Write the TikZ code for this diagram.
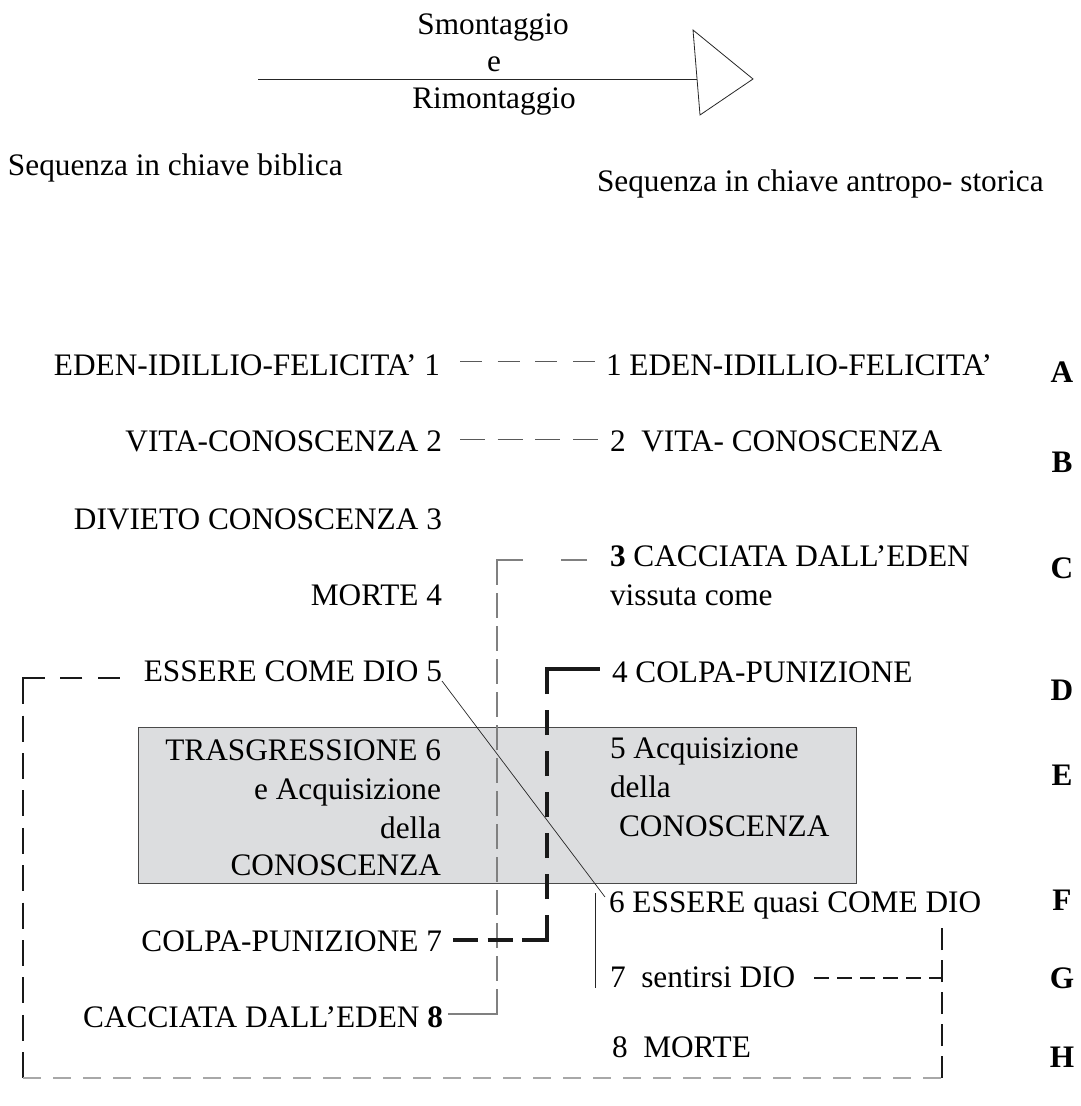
\documentclass[tikz,border=0pt]{standalone}
\usepackage{fontspec}
\setmainfont{Liberation Serif}
\usetikzlibrary{calc}
\definecolor{boxfill}{HTML}{DCDDDF}
\definecolor{boxline}{HTML}{4A4A4A}
\definecolor{midgray}{HTML}{808080}
\definecolor{lightgrayb}{HTML}{A8A8A8}
\begin{document}
\begin{tikzpicture}[x=1pt,y=-1pt,
 txt/.style={inner sep=0pt,outer sep=0pt,font=\fontsize{31.3}{37}\selectfont},
 lt/.style={txt,anchor=base east},
 rt/.style={txt,anchor=base west},
 lett/.style={txt,anchor=base,font=\fontsize{31.3}{37}\selectfont\bfseries},
 thinline/.style={line width=0.8pt,draw=black!85},
 rowdash/.style={line width=0.9pt,draw=black!65},
 gline/.style={line width=1.1pt,draw=midgray},
 blackdash/.style={line width=2pt,draw=black!90},
 thickdash/.style={line width=4pt,draw=black!90},
 bottomdash/.style={line width=1.6pt,draw=lightgrayb,dash pattern=on 18pt off 12pt}]

\useasboundingbox (0,0) rectangle (1081,1106);

% shaded box
\node[draw=boxline,fill=boxfill,line width=1pt,minimum width=718pt,minimum height=156pt,
      inner sep=0pt,outer sep=0pt,anchor=north west] (box) at (138,727) {};

% header
\node[txt,anchor=base] (sm) at (493,34) {Smontaggio};
\node[txt,anchor=base] (se) at (494,71) {e};
\node[txt,anchor=base] (ri) at (494,108) {Rimontaggio};
\coordinate (astart) at (258,79);
\coordinate (aend) at (697,79);
\coordinate (atip) at (753,79);
\draw[thinline] (astart) -- (aend);
\draw[thinline,fill=white] (693,30) -- (atip) -- (700,115) -- cycle;

\node[rt] (s1) at (8,175) {Sequenza in chiave biblica};
\node[rt] (s2) at (597,191) {Sequenza in chiave antropo- storica};

% left column
\node[lt] (l1) at (440,375) {EDEN-IDILLIO-FELICITA’ 1};
\node[lt] (l2) at (442,451) {VITA-CONOSCENZA 2};
\node[lt] (l3) at (442,529) {DIVIETO CONOSCENZA 3};
\node[lt] (l4) at (442,605) {MORTE 4};
\node[lt] (l5) at (442,681) {ESSERE COME DIO 5};
\node[lt] (l6a) at (441,760) {TRASGRESSIONE 6};
\node[lt] (l6b) at (441,799) {e Acquisizione};
\node[lt] (l6c) at (441,838) {della};
\node[lt] (l6d) at (441,875) {CONOSCENZA};
\node[lt] (l7) at (442,951) {COLPA-PUNIZIONE 7};
\node[lt] (l8) at (443,1027) {CACCIATA DALL’EDEN \textbf{8}};

% right column
\node[rt] (r1) at (606,375) {1 EDEN-IDILLIO-FELICITA’};
\node[rt] (r2) at (610,451) {2~ VITA- CONOSCENZA};
\node[rt] (r3) at (610,566) {\textbf{3} CACCIATA DALL’EDEN};
\node[rt] (r3b) at (610,605) {vissuta come};
\node[rt] (r4) at (612,682) {4 COLPA-PUNIZIONE};
\node[rt] (r5a) at (610,758) {5 Acquisizione};
\node[rt] (r5b) at (610,797) {della};
\node[rt] (r5c) at (619,836) {CONOSCENZA};
\node[rt] (r6) at (609,912) {6 ESSERE quasi COME DIO};
\node[rt] (r7) at (610,987) {7~ sentirsi DIO};
\node[rt] (r8) at (612,1057) {8~ MORTE};

% letters
\node[lett] (la) at (1062,382) {A};
\node[lett] (lb) at (1062,472) {B};
\node[lett] (lc) at (1062,578) {C};
\node[lett] (ld) at (1062,700) {D};
\node[lett] (le) at (1062,785) {E};
\node[lett] (lf) at (1062,910) {F};
\node[lett] (lg) at (1062,988) {G};
\node[lett] (lh) at (1062,1067) {H};

% row connectors
\draw[rowdash,dash pattern=on 22pt off 15.7pt] ($(l1.base east)+(20,-14)$) -- ($(r1.base west)+(-11,-14)$);
\draw[rowdash,dash pattern=on 25pt off 12.7pt] ($(l2.base east)+(18,-12)$) -- ($(r2.base west)+(-12,-12)$);

% grey bracket 3 CACCIATA -> CACCIATA 8
\coordinate (gc1) at (497,560);
\coordinate (gc2) at (497,1014);
\draw[gline,dash pattern=on 26pt off 38pt on 51pt
  off 8pt on 25pt off 8pt on 25pt off 8pt on 25pt off 8pt on 25pt
  off 8pt on 25pt off 8pt on 25pt off 8pt on 25pt off 8pt on 25pt
  off 8pt on 25pt off 8pt on 25pt off 8pt on 25pt off 8pt on 25pt
  off 8pt on 74pt off 50pt]
  ($(r3.base west)+(-23,-6)$) -- (gc1) -- (gc2) -- ($(l8.base east)+(5,-13)$);

% thick bracket COLPA 7 -> 4 COLPA
\coordinate (tc1) at (547,940);
\coordinate (tc2) at (547,669);
\draw[thickdash,dash pattern=on 25pt off 9.5pt on 25pt off 9.5pt on 50pt
  off 16pt on 25pt off 16pt on 25pt off 16pt on 25pt off 16pt on 25pt
  off 16pt on 25pt off 16pt on 78pt off 100pt]
  ($(l7.base east)+(11,-11)$) -- (tc1) -- (tc2) -- ($(r4.base west)+(-12,-13)$);

% big left/bottom/right bracket
\coordinate (lc1) at (23,678);
\coordinate (lc2) at (23,1078);
\coordinate (rc2) at (942,1078);
\coordinate (rc1) at (942,928);
\coordinate (rj) at (942,978);
\draw[blackdash,dash pattern=on 22pt off 15.5pt on 22pt off 15.5pt on 48pt
  off 11.4pt on 26pt off 11.4pt on 26pt off 11.4pt on 26pt off 11.4pt on 26pt
  off 11.4pt on 26pt off 11.4pt on 26pt off 11.4pt on 26pt off 11.4pt on 26pt
  off 11.4pt on 26pt off 11.4pt on 26pt off 50pt]
  ($(l5.base west)+(-24,-3)$) -- (lc1) -- (lc2);
\draw[bottomdash] (lc2) -- (rc2);
\draw[blackdash,dash pattern=on 22pt off 10pt] (rc2) -- (rc1);
\draw[blackdash,line width=1.8pt,dash pattern=on 15pt off 8pt] ($(r7.base east)+(19,-9)$) -- (rj);

% thin connectors
\draw[thinline,line width=0.7pt] (l5.base east) -- ($(r6.base west)+(-4,-15)$);
\draw[thinline] ($(r6.base west)+(-14,-19)$) -- ($(r7.base west)+(-15,1)$);
\end{tikzpicture}
\end{document}
